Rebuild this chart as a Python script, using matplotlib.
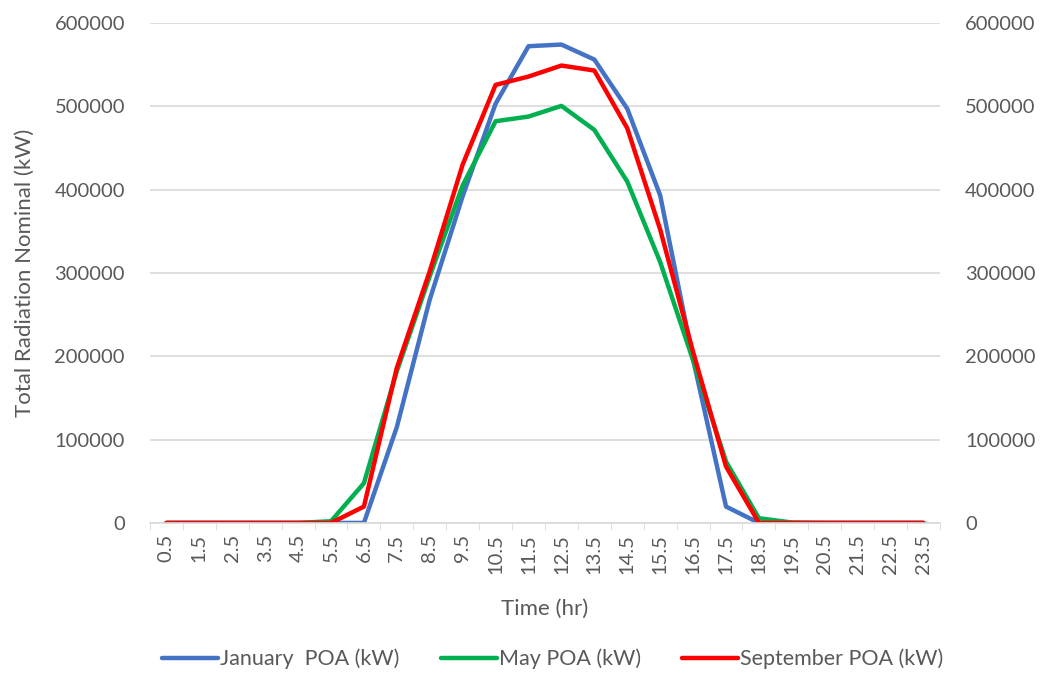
import matplotlib
matplotlib.use("Agg")
import matplotlib.pyplot as plt
import numpy as np

hours = ["0.5","1.5","2.5","3.5","4.5","5.5","6.5","7.5","8.5","9.5","10.5","11.5",
         "12.5","13.5","14.5","15.5","16.5","17.5","18.5","19.5","20.5","21.5","22.5","23.5"]
january = [0,0,0,0,0,0,0,115000,268000,392000,503000,572000,
           574000,556000,497000,393000,196000,19600,0,0,0,0,0,0]
may = [0,0,0,0,0,2000,47600,182000,296000,405000,482000,487600,
       500400,471600,409600,313000,195000,73600,5600,500,0,0,0,0]
september = [0,0,0,0,0,0,19600,186000,302000,430000,525600,535600,
             548800,542800,473600,352000,205000,67600,0,0,0,0,0,0]
yticks = [0,100000,200000,300000,400000,500000,600000]

plt.rcParams['font.family'] = ['Lato', 'DejaVu Sans']
grey = '#595959'

fig = plt.figure(figsize=(10.41, 6.73), dpi=100)
ax = fig.add_axes([0.144, 0.223, 0.759, 0.743])
x = np.arange(len(hours))
ax.plot(x, january, color='#4472C4', lw=3.2, label='January  POA (kW)', solid_capstyle='round')
ax.plot(x, may, color='#00B050', lw=3.2, label='May POA (kW)', solid_capstyle='round')
ax.plot(x, september, color='#FF0000', lw=3.2, label='September POA (kW)', solid_capstyle='round')

ax.set_xlim(-0.5, len(hours)-0.5)
ax.set_ylim(0, 600000)
ax.set_yticks(yticks)
ax.set_yticklabels([str(v) for v in yticks])
ax.grid(axis='y', color='#D9D9D9', lw=1.2)
ax.set_axisbelow(True)
for s in ['top', 'right', 'left']:
    ax.spines[s].set_visible(False)
ax.spines['bottom'].set_color('#D9D9D9')
ax.spines['bottom'].set_linewidth(1.2)
ax.set_xticks(x)
ax.set_xticklabels(hours, rotation=90)
ax.set_xticks(np.arange(-0.5, len(hours), 1), minor=True)
ax.tick_params(axis='x', which='major', length=0, colors=grey, labelsize=14.5, pad=8)
ax.tick_params(axis='x', which='minor', length=5, color='#D9D9D9')
ax.tick_params(axis='y', length=0, colors=grey, labelsize=14.5, pad=18)
ax.set_xlabel('Time (hr)', color=grey, fontsize=16, labelpad=18)
ax.set_ylabel('Total Radiation Nominal (kW)', color=grey, fontsize=16, labelpad=14)

ax2 = ax.twinx()
ax2.set_ylim(0, 600000)
ax2.set_yticks(yticks)
ax2.set_yticklabels([str(v) for v in yticks])
for s in ['top', 'right', 'left', 'bottom']:
    ax2.spines[s].set_visible(False)
ax2.tick_params(axis='y', length=0, colors=grey, labelsize=14.5, pad=18)

leg = fig.legend(loc='center', ncol=3, bbox_to_anchor=(0.531, 0.021), frameon=False,
                 fontsize=15.5, handlelength=2.6, handletextpad=0.1, columnspacing=1.9)
for t in leg.get_texts():
    t.set_color(grey)

fig.savefig('out.png', dpi=100)
